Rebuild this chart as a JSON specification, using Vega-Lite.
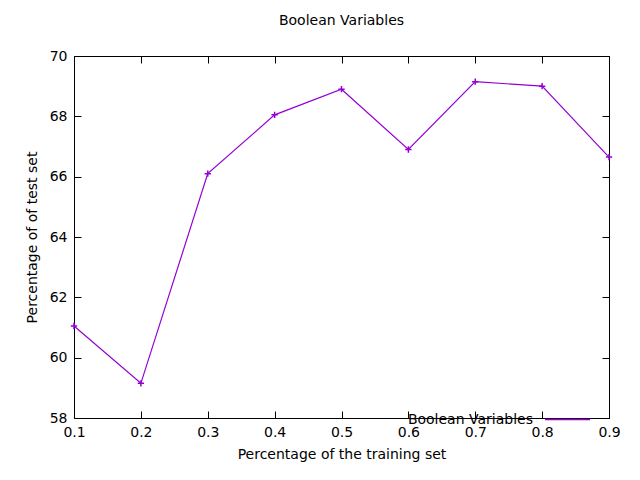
{
  "$schema": "https://vega.github.io/schema/vega-lite/v6.json",
  "width": 535,
  "height": 362,
  "autosize": "none",
  "padding": {"left": 74, "top": 56, "right": 31, "bottom": 62},
  "background": "white",
  "config": {
    "font": "DejaVu Sans",
    "view": {"stroke": "black", "strokeWidth": 1},
    "axis": {"grid": false, "domain": false, "ticks": true, "tickColor": "black", "tickWidth": 1, "tickSize": -7, "labelColor": "black", "labelFontSize": 14, "labelFlush": false, "titleFontSize": 14, "titleFontWeight": "normal", "titleColor": "black", "labelPadding": 14}
  },
  "title": {"text": "Boolean Variables", "fontSize": 14, "fontWeight": "normal", "offset": 21, "font": "DejaVu Sans"},
  "data": {"values": [
    {"x": 0.1, "y": 61.05, "s": "Boolean Variables"},
    {"x": 0.2, "y": 59.15, "s": "Boolean Variables"},
    {"x": 0.3, "y": 66.1, "s": "Boolean Variables"},
    {"x": 0.4, "y": 68.05, "s": "Boolean Variables"},
    {"x": 0.5, "y": 68.9, "s": "Boolean Variables"},
    {"x": 0.6, "y": 66.9, "s": "Boolean Variables"},
    {"x": 0.7, "y": 69.15, "s": "Boolean Variables"},
    {"x": 0.8, "y": 69.0, "s": "Boolean Variables"},
    {"x": 0.9, "y": 66.65, "s": "Boolean Variables"}
  ]},
  "layer": [
    {
      "mark": {"type": "line", "strokeWidth": 1.2, "point": {"shape": "M-1,0L1,0M0,-1L0,1", "size": 40, "filled": false, "strokeWidth": 1.5}},
      "encoding": {
        "x": {"field": "x", "type": "quantitative", "scale": {"domain": [0.1, 0.9]}, "axis": {"values": [0.1, 0.2, 0.3, 0.4, 0.5, 0.6, 0.7, 0.8, 0.9], "format": ".1f", "title": "Percentage of the training set", "titlePadding": 8}},
        "y": {"field": "y", "type": "quantitative", "scale": {"domain": [58, 70]}, "axis": {"values": [58, 60, 62, 64, 66, 68, 70], "title": "Percentage of of test set", "titlePadding": 10}},
        "color": {"field": "s", "type": "nominal", "scale": {"range": ["#9400d3"]}, "legend": {"title": null, "orient": "none", "legendX": 470, "legendY": 340, "symbolType": "stroke", "symbolSize": 2025, "symbolStrokeWidth": 1.5, "labelAlign": "right", "labelOffset": -58, "labelFontSize": 14, "labelColor": "black", "labelLimit": 300}}
      }
    },
    {
      "mark": {"type": "point", "opacity": 0},
      "encoding": {
        "x": {"field": "x", "type": "quantitative", "scale": {"domain": [0.1, 0.9]}, "axis": {"orient": "top", "values": [0.1, 0.2, 0.3, 0.4, 0.5, 0.6, 0.7, 0.8, 0.9], "labels": false, "title": null}},
        "y": {"field": "y", "type": "quantitative", "scale": {"domain": [58, 70]}, "axis": {"orient": "right", "values": [58, 60, 62, 64, 66, 68, 70], "labels": false, "title": null}}
      }
    }
  ],
  "resolve": {"axis": {"x": "independent", "y": "independent"}}
}
